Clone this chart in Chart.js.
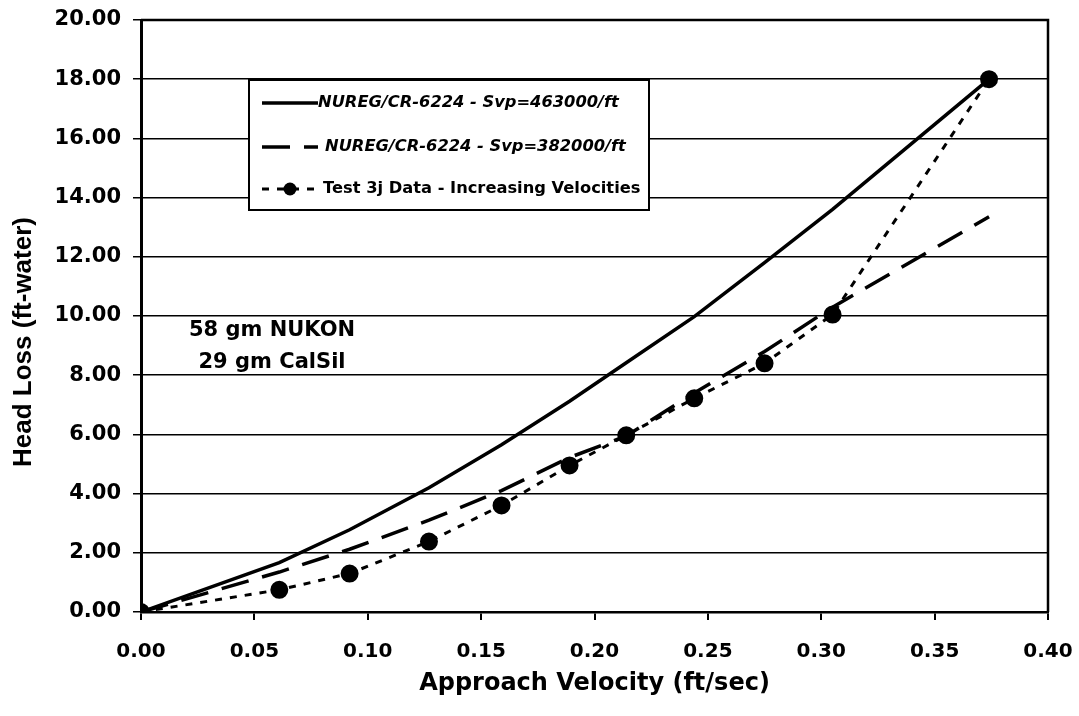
<!DOCTYPE html>
<html>
<head>
<meta charset="utf-8">
<script src="https://cdn.jsdelivr.net/npm/chart.js@4.4.1/dist/chart.umd.min.js"></script>
<style>
  html, body { margin: 0; padding: 0; background: #fff; }
  #wrap { width: 1079px; height: 716px; position: relative; }
</style>
</head>
<body>
<div id="wrap"><canvas id="c" width="1079" height="716"></canvas></div>
<script>
// ---- data ----
const velocity  = [0, 0.061, 0.092, 0.127, 0.159, 0.189, 0.214, 0.244, 0.275, 0.305, 0.374];
const svp463000 = [0, 1.67, 2.78, 4.20, 5.65, 7.12, 8.42, 9.98, 11.80, 13.60, 18.00];
const svp382000 = [0, 1.35, 2.12, 3.10, 4.10, 5.22, 5.95, 7.40, 8.80, 10.30, 13.35];
const test3j    = [0, 0.75, 1.30, 2.38, 3.60, 4.95, 5.97, 7.22, 8.40, 10.05, 18.00];
const seriesNames = [
  "NUREG/CR-6224 - Svp=463000/ft",
  "NUREG/CR-6224 - Svp=382000/ft",
  "Test 3j Data - Increasing Velocities"
];
const annotationLines = ["58 gm NUKON", "29 gm CalSil"];
const xTitle = "Approach Velocity (ft/sec)";
const yTitle = "Head Loss (ft-water)";

const toPts = (ys) => velocity.map((v, i) => ({ x: v, y: ys[i] }));

const boxPlugin = {
  id: 'boxPlugin',
  afterDraw(chart) {
    const ctx = chart.ctx;
    const a = chart.chartArea;
    ctx.save();
    ctx.strokeStyle = '#000';
    ctx.lineWidth = 2.5;
    ctx.beginPath();
    ctx.moveTo(a.left, a.top);
    ctx.lineTo(a.right, a.top);
    ctx.lineTo(a.right, a.bottom);
    ctx.stroke();

    // legend box
    const lx = 249, ly = 80, lw = 400, lh = 130;
    ctx.fillStyle = '#fff';
    ctx.fillRect(lx, ly, lw, lh);
    ctx.lineWidth = 2;
    ctx.strokeRect(lx, ly, lw, lh);
    const rows = [103, 147, 189];
    const ds = chart.data.datasets;
    ctx.textBaseline = 'middle';
    ctx.textAlign = 'left';
    for (let i = 0; i < 3; i++) {
      const y = rows[i];
      ctx.strokeStyle = '#000';
      ctx.lineWidth = ds[i].borderWidth;
      ctx.setLineDash(ds[i].borderDash || []);
      ctx.beginPath();
      ctx.moveTo(262, y);
      ctx.lineTo(318, y);
      ctx.stroke();
      ctx.setLineDash([]);
      if (i === 2) {
        ctx.fillStyle = '#000';
        ctx.beginPath();
        ctx.arc(290, y, 6.5, 0, Math.PI * 2);
        ctx.fill();
      }
      ctx.fillStyle = '#000';
      ctx.font = (i < 2 ? 'italic bold ' : 'bold ') + '16.3px "DejaVu Sans"';
      ctx.fillText(seriesNames[i], i === 0 ? 318 : (i === 1 ? 325 : 323), y);
    }

    // annotation
    ctx.font = 'bold 21px "DejaVu Sans"';
    ctx.textAlign = 'center';
    ctx.fillText(annotationLines[0], 272, 331);
    ctx.fillText(annotationLines[1], 272, 363);

    // y axis title
    ctx.translate(24, 342);
    ctx.rotate(-Math.PI / 2);
    ctx.font = 'bold 26px "Liberation Sans"';
    ctx.textAlign = 'center';
    ctx.textBaseline = 'middle';
    ctx.fillText(yTitle, 0, 0);
    ctx.restore();
  }
};

new Chart(document.getElementById('c'), {
  type: 'scatter',
  data: {
    datasets: [
      { label: seriesNames[0], data: toPts(svp463000), showLine: true,
        borderColor: '#000', borderWidth: 3.5, pointRadius: 0, fill: false },
      { label: seriesNames[1], data: toPts(svp382000), showLine: true,
        borderColor: '#000', borderWidth: 3.5, borderDash: [28, 14], pointRadius: 0, fill: false },
      { label: seriesNames[2], data: toPts(test3j), showLine: true,
        borderColor: '#000', borderWidth: 3, borderDash: [7, 8],
        pointRadius: 7.5, pointBackgroundColor: '#000', pointBorderColor: '#000', fill: false }
    ]
  },
  options: {
    responsive: false,
    animation: false,
    layout: { padding: { top: 20, right: 31, left: 0, bottom: 0 } },
    plugins: { legend: { display: false }, tooltip: { enabled: false } },
    scales: {
      x: {
        type: 'linear', min: 0, max: 0.4,
        ticks: { stepSize: 0.05, color: '#000', padding: 20,
          font: { family: '"DejaVu Sans"', size: 20, weight: 'bold' },
          callback: (v) => Number(v).toFixed(2) },
        grid: { drawOnChartArea: false, drawTicks: true, tickLength: 8, color: '#000', lineWidth: 2 },
        border: { color: '#000', width: 2.5 },
        title: { display: true, text: xTitle, color: '#000', padding: { top: 2, bottom: 18 },
          font: { family: '"DejaVu Sans"', size: 24, weight: 'bold' } },
        afterFit: (s) => { s.height = 104; s.paddingLeft = 0; s.paddingRight = 0; }
      },
      y: {
        type: 'linear', min: 0, max: 20,
        ticks: { stepSize: 2, color: '#000', padding: 12,
          font: { family: '"DejaVu Sans"', size: 21, weight: 'bold' },
          callback: (v) => Number(v).toFixed(2) },
        grid: { color: '#000', lineWidth: 1.5, tickLength: 8 },
        border: { color: '#000', width: 3 },
        title: { display: false },
        afterFit: (s) => { s.width = 141; s.paddingTop = 0; s.paddingBottom = 0; }
      }
    }
  },
  plugins: [boxPlugin]
});
</script>
</body>
</html>
